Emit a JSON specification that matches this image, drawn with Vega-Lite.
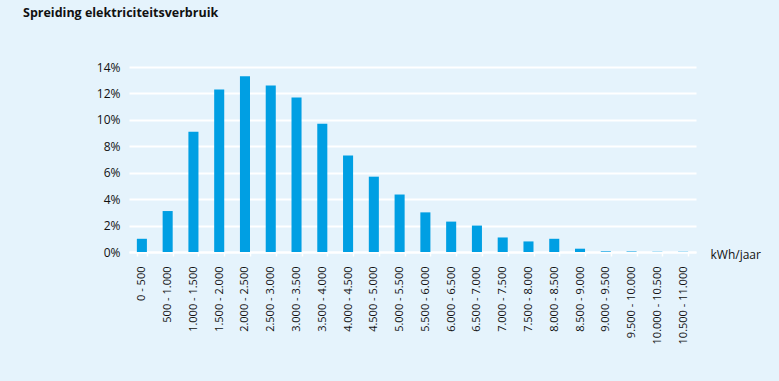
{
  "$schema": "https://vega.github.io/schema/vega-lite/v6.json",
  "width": 567,
  "height": 185,
  "autosize": {"type": "none"},
  "padding": {"left": 129, "top": 67, "right": 83, "bottom": 129},
  "background": "#e5f3fc",
  "title": {
    "text": "Spreiding elektriciteitsverbruik",
    "anchor": "start",
    "frame": "group",
    "dx": -106,
    "dy": -38,
    "font": "Open Sans",
    "fontSize": 12.5,
    "fontWeight": "bold",
    "color": "#111111"
  },
  "config": {
    "view": {"stroke": null},
    "font": "Open Sans"
  },
  "data": {
    "values": [
      {"klasse": "0 - 500", "pct": 1.0},
      {"klasse": "500 - 1.000", "pct": 3.1},
      {"klasse": "1.000 - 1.500", "pct": 9.1},
      {"klasse": "1.500 - 2.000", "pct": 12.3},
      {"klasse": "2.000 - 2.500", "pct": 13.3},
      {"klasse": "2.500 - 3.000", "pct": 12.6},
      {"klasse": "3.000 - 3.500", "pct": 11.7},
      {"klasse": "3.500 - 4.000", "pct": 9.7},
      {"klasse": "4.000 - 4.500", "pct": 7.3},
      {"klasse": "4.500 - 5.000", "pct": 5.7},
      {"klasse": "5.000 - 5.500", "pct": 4.35},
      {"klasse": "5.500 - 6.000", "pct": 3.0},
      {"klasse": "6.000 - 6.500", "pct": 2.3},
      {"klasse": "6.500 - 7.000", "pct": 2.0},
      {"klasse": "7.000 - 7.500", "pct": 1.1},
      {"klasse": "7.500 - 8.000", "pct": 0.8},
      {"klasse": "8.000 - 8.500", "pct": 1.0},
      {"klasse": "8.500 - 9.000", "pct": 0.25},
      {"klasse": "9.000 - 9.500", "pct": 0.05},
      {"klasse": "9.500 - 10.000", "pct": 0.04},
      {"klasse": "10.000 - 10.500", "pct": 0.02},
      {"klasse": "10.500 - 11.000", "pct": 0.02}
    ]
  },
  "mark": {"type": "bar", "color": "#009fe3"},
  "encoding": {
    "x": {
      "field": "klasse",
      "type": "nominal",
      "sort": null,
      "scale": {"paddingInner": 0.61, "paddingOuter": 0.305},
      "axis": {
        "title": "kWh/jaar",
        "titleX": 581,
        "titleY": 2,
        "titleAlign": "left",
        "titleBaseline": "middle",
        "titleAngle": 0,
        "titleFont": "Open Sans",
        "titleFontSize": 12,
        "titleFontWeight": "normal",
        "titleColor": "#111111",
        "labelAngle": -90,
        "labelAlign": "right",
        "labelBaseline": "middle",
        "labelFontSize": 11,
        "labelColor": "#111111",
        "labelPadding": 10,
        "tickBand": "extent",
        "tickColor": "#ffffff",
        "tickSize": 4,
        "tickWidth": 1.5,
        "domainColor": "#ffffff",
        "domainWidth": 2,
        "grid": false
      }
    },
    "y": {
      "field": "pct",
      "type": "quantitative",
      "scale": {"domain": [0, 14], "nice": false},
      "axis": {
        "title": null,
        "values": [0, 2, 4, 6, 8, 10, 12, 14],
        "labelExpr": "datum.value + '%'",
        "labelFontSize": 12,
        "labelColor": "#111111",
        "labelPadding": 9,
        "ticks": false,
        "domain": false,
        "grid": true,
        "gridColor": "#ffffff",
        "gridWidth": 2
      }
    }
  }
}
